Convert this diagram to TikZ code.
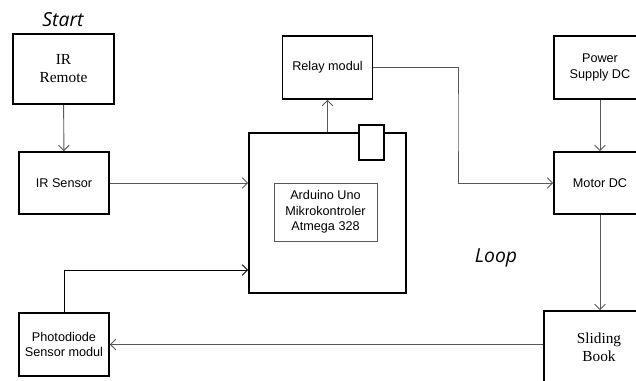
\documentclass[tikz,border=0pt]{standalone}
\usepackage{fontspec}
\setmainfont{Liberation Serif}
\setsansfont{Liberation Sans}
\newfontfamily\notefont{Open Sans}
\usetikzlibrary{arrows.meta, positioning, calc}
\definecolor{LineGray}{rgb}{0.35, 0.35, 0.35}

\begin{document}
\begin{tikzpicture}[x=0.75pt, y=-0.75pt,
    blok/.style={draw, line width=1.2pt, rectangle, inner sep=0pt, align=center,
                 font=\sffamily\fontsize{9.5}{11.5}\selectfont},
    blokserif/.style={blok, font=\rmfamily\fontsize{11.5}{13.5}\selectfont},
    panah/.style={draw=LineGray, line width=0.7pt, -{Straight Barb[length=4pt, width=8pt]}},
    catatan/.style={font=\notefont\itshape\fontsize{14.5}{16}\selectfont}]

\useasboundingbox (0,0) rectangle (636,381);
\clip (0,0) rectangle (636,381);

% ================= KIRI =================
\node[catatan] (start) at (63,20) {Start};
\node[blokserif, minimum width=75.75pt, minimum height=52.5pt] (remote) at (63.5,69) {IR\\Remote};
\node[blok, minimum width=67.5pt, minimum height=46.5pt] (sensor) at (64,183) {IR Sensor};
\node[blok, minimum width=67.5pt, minimum height=47.25pt] (photo) at (64,344.5) {Photodiode\\Sensor modul};

% ================= TENGAH =================
\node[blok, minimum width=67.5pt, minimum height=47.25pt] (relay) at (327.5,67.5) {Relay modul};
\node[blok, minimum width=117.75pt, minimum height=120pt] (arduino) at (327.5,213) {};
\node[blok, fill=white, minimum width=18.75pt, minimum height=26.25pt] (pin) at (371.5,142.5) {};
\node[blok, draw=black!65, line width=0.6pt, minimum width=77.25pt, minimum height=43.5pt] (mcu) at (325.5,212)
    {Arduino Uno\\Mikrokontroler\\Atmega 328};
\node[catatan] (loop) at (496,258) {Loop};

% ================= KANAN =================
\node[blok, minimum width=69pt, minimum height=47.25pt] (power) at (600,67.5) {Power\\Supply DC};
\node[blok, minimum width=69pt, minimum height=46.5pt] (motor) at (600,183) {Motor DC};
\node[blokserif, minimum width=82.5pt, minimum height=54pt] (sliding) at (599,347) {Sliding\\Book};

% koneksi
\coordinate (belok) at (458,120);
\draw[panah] (remote) -- (sensor);
\draw[panah] (sensor.east) -- (sensor.east -| arduino.west);
\draw[panah] (arduino.north) -- (relay.south);
\draw[panah] (relay.east) -| (belok) |- (motor.west);
\draw[panah] (power) -- (motor);
\draw[panah] (motor.south) -- (motor.south |- sliding.north);
\draw[panah] (photo.east -| sliding.west) -- (photo.east);
\draw[panah, draw=black] (photo.north) |- ($(arduino.west)+(0,57)$);

\end{tikzpicture}
\end{document}
